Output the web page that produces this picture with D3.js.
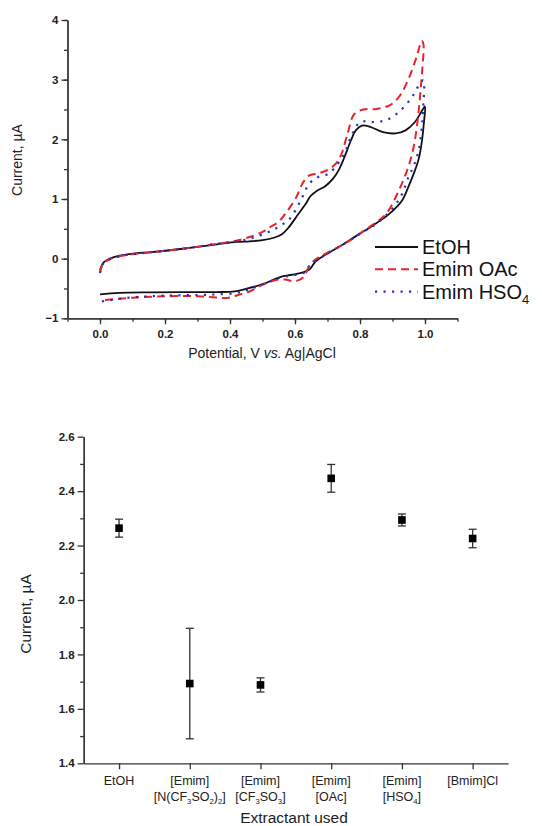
<!DOCTYPE html>
<html>
<head>
<meta charset="utf-8">
<script src="https://cdn.jsdelivr.net/npm/d3@7"></script>
<style>
  html, body { margin: 0; padding: 0; background: #fff; }
  svg { display: block; font-family: "Liberation Sans", Arial, sans-serif; }
</style>
</head>
<body>
<svg id="chart" width="542" height="826"></svg>
<script>
// ---- Cyclic voltammograms: [potential (V), current (µA)] along the scan ----
const etohScan = [
  [0.000,-0.19],[0.005,-0.12],[0.012,-0.06],[0.030,0.00],[0.060,0.05],[0.110,0.09],
  [0.160,0.11],[0.260,0.17],[0.360,0.24],[0.420,0.28],[0.460,0.29],[0.500,0.31],
  [0.535,0.35],[0.560,0.41],[0.580,0.52],[0.608,0.73],[0.633,0.92],[0.648,1.05],
  [0.668,1.14],[0.692,1.21],[0.717,1.34],[0.737,1.51],[0.752,1.70],[0.772,1.98],
  [0.787,2.15],[0.806,2.23],[0.831,2.21],[0.871,2.12],[0.910,2.10],[0.940,2.15],
  [0.969,2.29],[0.993,2.50],[1.000,2.55],
  [0.997,2.30],[0.990,1.95],[0.980,1.66],[0.965,1.42],[0.950,1.22],[0.930,0.98],
  [0.890,0.75],[0.841,0.56],[0.791,0.39],[0.742,0.22],[0.692,0.06],[0.663,-0.05],
  [0.645,-0.18],[0.625,-0.23],[0.590,-0.27],[0.554,-0.31],[0.505,-0.42],[0.455,-0.50],
  [0.415,-0.55],[0.356,-0.56],[0.257,-0.56],[0.158,-0.565],[0.059,-0.575],[0.000,-0.60]
];
const oacScan = [
  [0.000,-0.24],[0.004,-0.15],[0.012,-0.07],[0.030,-0.01],[0.060,0.04],[0.110,0.08],
  [0.160,0.11],[0.260,0.17],[0.360,0.25],[0.420,0.30],[0.465,0.37],[0.500,0.45],
  [0.524,0.53],[0.550,0.62],[0.574,0.78],[0.604,1.03],[0.623,1.26],[0.643,1.39],
  [0.673,1.43],[0.702,1.49],[0.727,1.60],[0.742,1.74],[0.762,2.10],[0.782,2.42],
  [0.811,2.50],[0.851,2.51],[0.891,2.57],[0.920,2.71],[0.950,3.02],[0.974,3.38],
  [0.990,3.65],[0.995,3.60],
  [0.992,3.20],[0.986,2.80],[0.979,2.40],[0.970,2.02],[0.960,1.75],[0.945,1.48],
  [0.920,1.15],[0.880,0.75],[0.821,0.50],[0.752,0.25],[0.700,0.10],[0.673,0.02],
  [0.655,-0.05],[0.640,-0.16],[0.628,-0.30],[0.600,-0.38],[0.570,-0.35],[0.540,-0.36],
  [0.500,-0.44],[0.460,-0.55],[0.425,-0.61],[0.390,-0.66],[0.356,-0.65],[0.300,-0.63],
  [0.200,-0.63],[0.100,-0.655],[0.000,-0.70]
];
const hso4Scan = [
  [0.000,-0.24],[0.004,-0.15],[0.012,-0.07],[0.030,-0.01],[0.060,0.04],[0.110,0.08],
  [0.160,0.11],[0.260,0.17],[0.360,0.25],[0.420,0.29],[0.465,0.34],[0.524,0.46],
  [0.555,0.55],[0.584,0.67],[0.618,0.98],[0.643,1.25],[0.668,1.36],[0.702,1.42],
  [0.732,1.59],[0.752,1.76],[0.776,2.09],[0.801,2.29],[0.841,2.29],[0.880,2.32],
  [0.920,2.46],[0.960,2.71],[0.984,2.93],[0.995,2.99],
  [0.994,2.50],[0.990,2.20],[0.980,1.80],[0.965,1.55],[0.950,1.38],[0.930,1.09],
  [0.900,0.84],[0.851,0.59],[0.801,0.42],[0.752,0.25],[0.683,0.03],[0.660,-0.05],
  [0.643,-0.13],[0.633,-0.22],[0.604,-0.27],[0.554,-0.32],[0.505,-0.42],[0.455,-0.52],
  [0.415,-0.58],[0.356,-0.60],[0.300,-0.61],[0.200,-0.62],[0.100,-0.65],[0.000,-0.72]
];
const cvSeries = ["EtOH", "Emim OAc", "Emim HSO4"];
const cvTicksX = [0.0, 0.2, 0.4, 0.6, 0.8, 1.0];
const cvTicksY = [-1, 0, 1, 2, 3, 4];

// ---- Peak current by extractant ----
const extractants = ["EtOH", "[Emim][N(CF3SO2)2]", "[Emim][CF3SO3]", "[Emim][OAc]", "[Emim][HSO4]", "[Bmim]Cl"];
const peakCurrent = [2.264, 1.693, 1.688, 2.447, 2.294, 2.226];
const peakError   = [0.033, 0.203, 0.026, 0.051, 0.022, 0.034];
const peakTicksY  = [1.4, 1.6, 1.8, 2.0, 2.2, 2.4, 2.6];

const svg = d3.select("#chart");
const FONT = '"Liberation Sans", Arial, sans-serif';
const AXIS_COLOR = "#333";

function styleAxis(g, bold) {
  g.selectAll("path, line").attr("stroke", AXIS_COLOR).attr("stroke-width", 1.3);
  g.selectAll("text").attr("font-family", FONT).attr("font-size", 11.5)
    .attr("font-weight", bold ? "bold" : "normal").attr("fill", "#222");
}

// ================= Top: cyclic voltammetry =================
const x1 = d3.scaleLinear().domain([-0.1, 1.1]).range([67.5, 457.5]);
const y1 = d3.scaleLinear().domain([-1, 4]).range([318.3, 20]);

// minor ticks
svg.append("g").attr("transform", `translate(0,${y1(-1)})`)
  .call(d3.axisBottom(x1).tickValues(d3.range(-0.1, 1.11, 0.1)).tickSize(3.5).tickFormat("").tickSizeOuter(0))
  .call(g => styleAxis(g));
svg.append("g").attr("transform", `translate(${x1(-0.1)},0)`)
  .call(d3.axisLeft(y1).tickValues(d3.range(-1, 4.01, 0.5)).tickSize(3.5).tickFormat("").tickSizeOuter(0))
  .call(g => styleAxis(g));
// major ticks
svg.append("g").attr("transform", `translate(0,${y1(-1)})`)
  .call(d3.axisBottom(x1).tickValues(cvTicksX).tickSize(6).tickPadding(6).tickFormat(d3.format(".1f")).tickSizeOuter(0))
  .call(g => styleAxis(g, true));
svg.append("g").attr("transform", `translate(${x1(-0.1)},0)`)
  .call(d3.axisLeft(y1).tickValues(cvTicksY).tickSize(6).tickPadding(3).tickFormat(d3.format("d")).tickSizeOuter(0))
  .call(g => styleAxis(g, true));

const cvStyles = [
  { data: etohScan, color: "#111", dash: null, width: 1.8 },
  { data: oacScan, color: "#e8232b", dash: "8,5", width: 2 },
  { data: hso4Scan, color: "#2b2fcf", dash: "2.2,6.3", width: 2.2 }
];
const cvLine = d3.line().x(d => x1(d[0])).y(d => y1(d[1])).curve(d3.curveCatmullRom.alpha(0.5));
cvStyles.forEach(s => {
  svg.append("path").datum(s.data).attr("d", cvLine)
    .attr("fill", "none").attr("stroke", s.color).attr("stroke-width", s.width)
    .attr("stroke-dasharray", s.dash).attr("stroke-linejoin", "round");
});

// legend
const legend = svg.append("g").attr("font-family", FONT).attr("font-size", 20).attr("fill", "#111");
cvSeries.forEach((name, i) => {
  const yy = 247 + i * 22.3;
  const s = cvStyles[i];
  legend.append("line").attr("x1", 375).attr("x2", 418).attr("y1", yy).attr("y2", yy)
    .attr("stroke", s.color).attr("stroke-width", s.width).attr("stroke-dasharray", s.dash);
  const t = legend.append("text").attr("x", 422).attr("y", yy + 7);
  if (name === "Emim HSO4") {
    t.append("tspan").text("Emim HSO");
    t.append("tspan").attr("font-size", 13).attr("dy", 5).text("4");
  } else {
    t.text(name);
  }
});

// axis titles
svg.append("text").attr("font-family", FONT).attr("font-size", 14).attr("fill", "#222")
  .attr("text-anchor", "middle").attr("transform", "translate(22,160) rotate(-90)")
  .text("Current, \u00b5A");
const xt = svg.append("text").attr("font-family", FONT).attr("font-size", 14).attr("fill", "#222")
  .attr("text-anchor", "middle").attr("x", 262).attr("y", 358);
xt.append("tspan").text("Potential, V ");
xt.append("tspan").attr("font-style", "italic").text("vs.");
xt.append("tspan").text(" Ag|AgCl");

// ================= Bottom: peak currents =================
const x2 = d3.scaleLinear().domain([0.5, 6.5]).range([83.7, 508]);
const y2 = d3.scaleLinear().domain([1.4, 2.6]).range([763.3, 436.7]);

svg.append("g").attr("transform", `translate(${x2(0.5)},0)`)
  .call(d3.axisLeft(y2).tickValues(d3.range(1.5, 2.6, 0.2)).tickSize(3.5).tickFormat("").tickSizeOuter(0))
  .call(g => styleAxis(g));
svg.append("g").attr("transform", `translate(${x2(0.5)},0)`)
  .call(d3.axisLeft(y2).tickValues(peakTicksY).tickSize(6).tickPadding(3).tickFormat(d3.format(".1f")).tickSizeOuter(0))
  .call(g => styleAxis(g, true));
svg.append("g").attr("transform", `translate(0,${y2(1.4)})`)
  .call(d3.axisBottom(x2).tickValues(d3.range(1, 7)).tickSize(6).tickFormat("").tickSizeOuter(0))
  .call(g => styleAxis(g));

// category labels, with chemical subscripts
function chemLabel(sel, s, fs) {
  const parts = s.split(/(\d)/).filter(p => p !== "");
  let lowered = false;
  parts.forEach(p => {
    const isSub = /^\d$/.test(p);
    const ts = sel.append("tspan").text(p);
    if (isSub) {
      ts.attr("font-size", fs * 0.62).attr("dy", 3);
      lowered = true;
    } else if (lowered) {
      ts.attr("dy", -3);
      lowered = false;
    }
  });
}
extractants.forEach((name, i) => {
  const cx = x2(i + 1);
  const m = name.match(/^(\[[^\]]+\])(\[.+\])$/);
  const lines = m ? [m[1], m[2]] : [name];
  lines.forEach((ln, j) => {
    const t = svg.append("text").attr("font-family", FONT).attr("font-size", 12.5).attr("fill", "#222")
      .attr("text-anchor", "middle").attr("x", cx).attr("y", 785 + j * 16);
    chemLabel(t, ln, 12.5);
  });
});

// error bars and markers
const errG = svg.append("g").attr("stroke", "#333").attr("stroke-width", 1.3);
extractants.forEach((name, i) => {
  const cx = x2(i + 1);
  const top = y2(peakCurrent[i] + peakError[i]);
  const bot = y2(peakCurrent[i] - peakError[i]);
  errG.append("line").attr("x1", cx).attr("x2", cx).attr("y1", top).attr("y2", bot);
  errG.append("line").attr("x1", cx - 4).attr("x2", cx + 4).attr("y1", top).attr("y2", top);
  errG.append("line").attr("x1", cx - 4).attr("x2", cx + 4).attr("y1", bot).attr("y2", bot);
});
svg.append("g").selectAll("rect").data(peakCurrent).join("rect")
  .attr("x", (d, i) => x2(i + 1) - 3.8).attr("y", d => y2(d) - 3.8)
  .attr("width", 7.6).attr("height", 7.6).attr("fill", "#000");

svg.append("text").attr("font-family", FONT).attr("font-size", 15.5).attr("fill", "#222")
  .attr("text-anchor", "middle").attr("transform", "translate(31,614) rotate(-90)")
  .text("Current, \u00b5A");
svg.append("text").attr("font-family", FONT).attr("font-size", 15.5).attr("fill", "#222")
  .attr("text-anchor", "middle").attr("x", 294).attr("y", 823)
  .text("Extractant used");
</script>
</body>
</html>
